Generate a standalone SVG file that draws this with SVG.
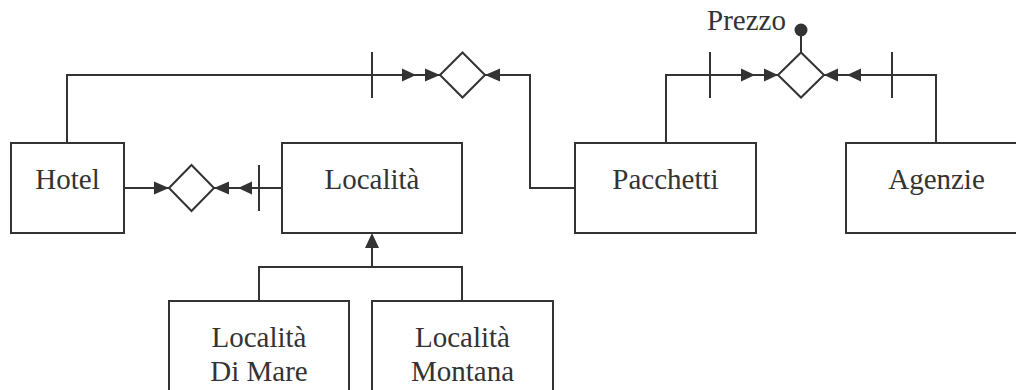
<svg xmlns="http://www.w3.org/2000/svg" width="1016" height="390" viewBox="0 0 1016 390">
<style>
.box{fill:#fff;stroke:#333;stroke-width:2}
.ln{fill:none;stroke:#333;stroke-width:2}
.dia{fill:#fff;stroke:#333;stroke-width:2}
.ah{fill:#333;stroke:none}
text{font-family:"Liberation Serif","Times New Roman",serif;font-size:29px;fill:#333}
.c{text-anchor:middle}
</style>
<rect width="1016" height="390" fill="#fff"/>
<g id="connectors">
  <!-- Hotel - Localita -->
  <path class="ln" d="M124,188 H282"/>
  <path class="ln" d="M259,165 V211"/>
  <polygon class="ah" points="169,188 154,181.5 154,194.5"/>
  <polygon class="ah" points="214,188 229,181.5 229,194.5"/>
  <polygon class="ah" points="238,188 252,181.5 252,194.5"/>
  <!-- Hotel - Pacchetti -->
  <path class="ln" d="M67,143 V75 H440"/>
  <path class="ln" d="M372,52 V98"/>
  <polygon class="ah" points="416,75 402,68.5 402,81.5"/>
  <polygon class="ah" points="440,75 425,68.5 425,81.5"/>
  <path class="ln" d="M485,75 H530 V188 H575"/>
  <polygon class="ah" points="485,75 500,68.5 500,81.5"/>
  <!-- Pacchetti - Agenzie -->
  <path class="ln" d="M666,143 V75 H778"/>
  <path class="ln" d="M710,52 V98"/>
  <polygon class="ah" points="755,75 741,68.5 741,81.5"/>
  <polygon class="ah" points="778,75 764,68.5 764,81.5"/>
  <path class="ln" d="M824,75 H936 V143"/>
  <path class="ln" d="M892,52 V98"/>
  <polygon class="ah" points="824,75 838,68.5 838,81.5"/>
  <polygon class="ah" points="847,75 861,68.5 861,81.5"/>
  <!-- Prezzo attribute -->
  <path class="ln" d="M801,36 V52"/>
  <circle cx="801" cy="30" r="6.5" fill="#333"/>
  <!-- ISA -->
  <polygon class="ah" points="372,233 365,248 379,248"/>
  <path class="ln" d="M372,248 V267 M259,301 V267 H462 V301"/>
</g>
<g id="rel-hotel-localita"><polygon class="dia" points="169,188 191.5,165 214,188 191.5,211"/></g>
<g id="rel-hotel-pacchetti"><polygon class="dia" points="440,75 462.5,52.5 485,75 462.5,97.5"/></g>
<g id="rel-pacchetti-agenzie"><polygon class="dia" points="778,75 801,52.5 824,75 801,97.5"/></g>
<g id="attr-prezzo"><text x="707" y="30">Prezzo</text></g>
<g id="hotel"><rect class="box" x="11" y="143" width="113" height="90"/><text class="c" x="67.5" y="189">Hotel</text></g>
<g id="localita"><rect class="box" x="282" y="143" width="180" height="90"/><text class="c" x="372" y="189">Località</text></g>
<g id="pacchetti"><rect class="box" x="575" y="143" width="181" height="90"/><text class="c" x="665.5" y="189">Pacchetti</text></g>
<g id="agenzie"><rect class="box" x="846" y="143" width="181" height="90"/><text class="c" x="936.5" y="189">Agenzie</text></g>
<g id="localita-di-mare"><rect class="box" x="169" y="301" width="180" height="100"/><text class="c" x="259" y="347">Località</text><text class="c" x="259" y="381">Di Mare</text></g>
<g id="localita-montana"><rect class="box" x="372" y="301" width="181" height="100"/><text class="c" x="462.5" y="347">Località</text><text class="c" x="462.5" y="381">Montana</text></g>
</svg>
